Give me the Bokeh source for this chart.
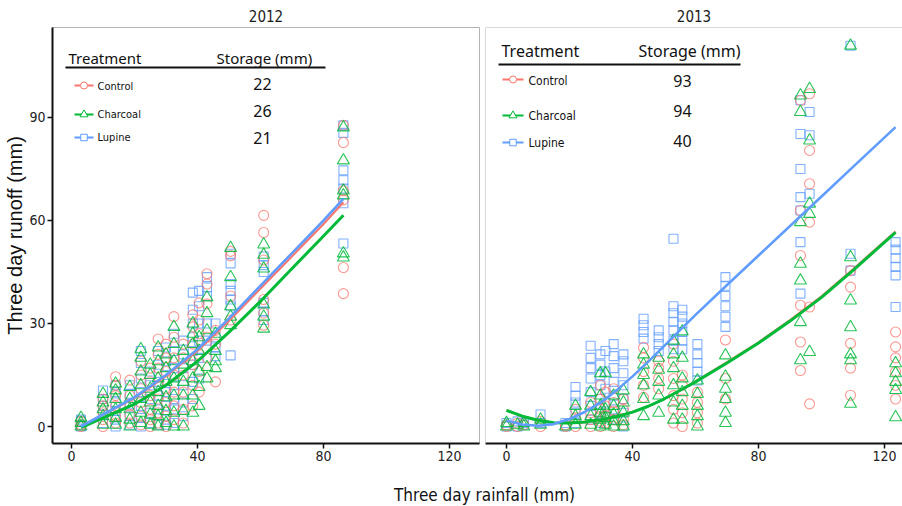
from bokeh.plotting import figure
from bokeh.layouts import column, row
from bokeh.models import Label, Span, FixedTicker, Range1d
from bokeh.embed import file_html
from bokeh.resources import INLINE

# ---------------- data ----------------
treatments = ["Control", "Charcoal", "Lupine"]
storage_2012 = ["22", "26", "21"]
storage_2013 = ["93", "94", "40"]
years = ["2012", "2013"]
x_ticks = [0, 40, 80, 120]
y_ticks = [0, 30, 60, 90]

rain_2012 = [3, 10, 14, 18.5, 22, 25, 27.5, 30, 32.5, 35.5, 38.5, 40.5, 43, 45.7, 50.5, 61, 86.3]
control_2012 = [[0, 0.5, 1.5], [0, 2, 4, 6, 8], [1, 3, 6, 9, 12, 14.5], [1, 3.5, 6, 9, 13.5],
                [0.5, 3, 7, 11, 15, 19], [0, 2, 5, 9, 13, 17], [1, 4, 8, 12, 17, 21, 25.5],
                [0, 3, 7, 11, 16, 20, 24], [2, 6, 10, 15, 20, 26, 32], [1, 5, 10, 15, 20, 24],
                [6, 12, 18, 24, 29, 32.5], [10, 16, 21, 27, 31, 36], [20, 26, 35.7, 41.5, 44.5],
                [13, 24, 28], [31, 38, 49.7, 51], [29.5, 33, 37, 48.5, 56.5, 61.5],
                [38.7, 46.3, 66, 68.7, 82.7, 87.7]]
charcoal_2012 = [[0, 1, 2.5], [0.5, 3, 5, 7, 9.5], [0.5, 2.5, 5, 8, 10.5, 12.5], [0, 2, 5, 8, 11.5],
                 [1, 4, 8, 12, 16, 20, 22.5], [0.5, 3.5, 7, 11, 15, 18], [0, 3, 6, 10, 14, 19, 23],
                 [1, 4.5, 8.5, 13, 17, 21], [0, 4, 9, 14, 19, 24, 29], [0, 4.5, 9, 13, 18, 22],
                 [4, 9, 14, 19, 24, 27, 30], [6, 11.5, 16, 22, 26], [14, 17.3, 28, 33, 37.6],
                 [17, 19, 22, 27], [29.5, 32, 35, 43.5, 52], [28.5, 32, 35.5, 46, 50, 53],
                 [49.2, 50.4, 67.3, 68.7, 77.5, 87.1]]
lupine_2012 = [[0, 0.5, 1.5, 2], [1, 3.5, 6, 8, 10.5], [0, 2, 4.5, 7, 10, 12], [0.5, 3, 6.5, 9.5, 12],
               [0, 2.5, 6, 10, 14, 18.5, 22], [1, 4, 8, 12, 16], [0.5, 5, 9, 13, 18, 22],
               [0.5, 2, 6, 10, 15, 19, 23], [1, 5, 8, 12, 17, 22, 27], [3, 7, 12, 17, 21, 25],
               [8, 13, 18, 22, 26, 30, 34, 39], [14, 20, 25, 30, 35, 39.5], [25, 30, 38, 40.5, 43.5],
               [20.5, 23, 26, 30], [20.7, 35, 37, 39.5, 41.5, 47.5, 50.3], [31, 33.5, 36, 45, 47, 49.5],
               [53.3, 65, 69.3, 71.7, 74.6, 85.5, 87.7]]

rain_2013 = [0, 3.5, 5.5, 10.8, 18.7, 21.9, 26.7, 29.8, 31.4, 34, 37.1, 43.5, 48.3, 53, 55.8,
             60.6, 69.5, 93.3, 96.2, 109.2, 123.5]
control_2013 = [[0, 0.5], [0, 1], [0.5], [0, 1.5], [0, 0.5], [0, 2.5, 5], [0, 2, 4, 7],
                [0, 1.5, 3, 5, 8, 12], [1, 3, 6, 10], [0, 2, 4.5, 7, 11], [0.5, 2, 5, 8],
                [8.5, 12, 16, 20, 23], [11, 14, 17, 19], [1, 5, 9, 14, 19, 24], [0, 4, 8, 12, 15],
                [1, 4, 7, 10], [8, 14, 25.2], [16.3, 24.6, 35.3, 49.8, 62.9, 95],
                [6.6, 34.8, 59.5, 70.7, 80.4, 96.9], [9.1, 17, 24.2, 40.6, 45.4],
                [8, 12, 16, 20, 23.2, 27.5]]
charcoal_2013 = [[0, 1], [0.5], [0, 1], [0.5, 2], [0], [0.5, 3, 6], [0.5, 3, 6, 10],
                 [0, 2, 4, 6, 9, 15.5], [0.5, 2.5, 5, 15.5], [0, 1.5, 3.5, 6, 9], [0, 1.5, 4, 7, 10.5],
                 [3, 8, 12, 15, 18, 21], [4, 9, 13, 16.5, 20], [2, 7, 12, 17, 21, 25],
                 [2, 6, 10, 14, 20, 27.7], [0, 3, 6, 9.5, 13.4], [1, 4, 8, 11, 14.5, 20.7],
                 [19.3, 30.4, 42.5, 47.4, 59.5, 91.6, 96.4], [21.7, 61.9, 64.9, 83.3, 98.3],
                 [6.6, 19.3, 21, 28.9, 36.7, 49.3, 110.9], [2.7, 10.6, 13, 15.5, 18.4]]
lupine_2013 = [[0, 1], [0, 1.5], [0.5, 1], [1, 3.5], [0, 1], [1, 4, 7, 9, 11.5],
               [2, 6, 10, 14, 17, 20, 23.5], [1, 4, 8, 12, 15, 18, 21], [3, 7, 11, 16, 22],
               [2, 5, 9, 13, 17, 20.5, 24], [0, 4, 8, 12, 15.5, 19, 21], [25.6, 27.5, 29.5, 31.4],
               [22, 24, 26, 28], [22.5, 25, 28, 30.5, 33, 35, 54.7], [22.5, 25, 27.5, 30, 32, 34],
               [13.4, 16, 18.5, 21, 24], [29, 32, 35, 38, 41, 43.5],
               [38.7, 53.7, 62.9, 66.8, 75, 85.2, 95], [67.8, 84.8, 91.6], [45.4, 50.3, 110.9],
               [34.8, 44, 46.5, 49, 51.5, 53.7]]

# fitted curves
fit_x_2012 = [3, 10, 20, 30, 40, 50, 60, 70, 80, 86.3]
control_fit_2012 = [0, 3.4, 8.3, 14.7, 22, 30.8, 40.2, 49.6, 59, 65.3]
charcoal_fit_2012 = [-0.3, 2.5, 6.5, 12, 19, 27.5, 36.5, 46, 55.5, 61.5]
lupine_fit_2012 = [0, 3.5, 8.5, 15, 22.5, 31.5, 41, 50.5, 60, 66.3]

fit_x_2013 = [0, 5, 10, 15, 20, 25, 30, 35, 40, 45, 50, 55, 60, 70, 80, 90, 100, 110, 123.5]
control_fit_2013 = [4.7, 3.0, 1.8, 1.1, 1.0, 1.3, 2.0, 2.9, 4.2, 5.9, 8.0, 10.5, 13.1, 18.7,
                    24.5, 31.0, 37.9, 45.8, 56.8]
charcoal_fit_2013 = [4.7, 3.0, 1.8, 1.1, 1.0, 1.3, 2.0, 2.9, 4.2, 5.9, 8.0, 10.5, 13.0, 18.5,
                     24.3, 30.7, 37.6, 45.5, 56.5]
lupine_fit_2013 = [1.7, 0.6, 0.2, 0.7, 2.2, 4.3, 7.0, 10.6, 14.6, 18.9, 23.4, 28.0, 32.5, 41.2,
                   49.8, 58.4, 67.0, 75.6, 87.2]

# ---------------- style ----------------
RED = "#F8766D"
GREEN = "#00BA38"
BLUE = "#619CFF"
NARROW = "'DejaVu Sans Condensed', 'Liberation Sans', sans-serif"
HEAD = "'Noto Sans', sans-serif"

FH = 416
TOP, BOT = 27, 39
Y0, Y1 = -4.95, 116.2
XL0, XL1 = -6.03, 129.5
XR0, XR1 = -6.67, 125.7


def flatten(rain, groups):
    xs, ys = [], []
    for r, vals in zip(rain, groups):
        for v in vals:
            xs.append(r)
            ys.append(v)
    return xs, ys


def make_panel(year, rain, groups, fits, fit_x, storage, fw, left_border, right_border,
               x0, x1, show_y, legend_px):
    p = figure(frame_width=fw, frame_height=FH, min_border_left=left_border,
               min_border_right=right_border, min_border_top=TOP, min_border_bottom=BOT,
               x_range=Range1d(x0, x1), y_range=Range1d(Y0, Y1),
               output_backend="svg", toolbar_location=None,
               y_axis_location="left" if show_y else None, title=year)
    p.title.align = "center"
    p.title.text_font = NARROW
    p.title.text_font_size = "15px"
    p.title.text_font_style = "normal"
    p.title.text_color = "#1a1a1a"
    p.title.standoff = 11
    p.xgrid.visible = False
    p.ygrid.visible = False
    p.background_fill_color = "white"
    p.border_fill_color = "white"

    p.xaxis.ticker = FixedTicker(ticks=x_ticks)
    axes = [p.xaxis]
    if show_y:
        p.yaxis.ticker = FixedTicker(ticks=y_ticks)
        p.yaxis.axis_label = "Three day runoff (mm)"
        p.yaxis.axis_label_text_font = "'Liberation Sans', sans-serif"
        p.yaxis.axis_label_text_font_size = "20px"
        p.yaxis.axis_label_text_font_style = "normal"
        p.yaxis.axis_label_standoff = 0
        p.yaxis.axis_label_text_color = "#111111"
        axes.append(p.yaxis)
    for ax in axes:
        ax.axis_line_color = "#111111"
        ax.axis_line_width = 2
        ax.major_tick_line_color = "#111111"
        ax.major_tick_line_width = 1.5
        ax.major_tick_out = 5
        ax.major_tick_in = 0
        ax.minor_tick_line_color = None
        ax.major_label_text_font = NARROW
        ax.major_label_text_font_size = "14px"
        ax.major_label_text_color = "#222222"
        ax.major_label_standoff = 2

    if show_y:
        p.outline_line_color = "#b3b3b3"
        p.outline_line_width = 1
    else:
        p.outline_line_color = None
        p.add_layout(Span(location=Y1, dimension="width", line_color="#b3b3b3", line_width=1))
        p.add_layout(Span(location=x0, dimension="height", line_color="#b3b3b3", line_width=1))

    ctrl, char, lup = groups
    xs, ys = flatten(rain, lup)
    p.scatter(xs, ys, marker="square", size=9, fill_color=None, line_color=BLUE,
              line_alpha=0.8, line_width=1.1)
    xs, ys = flatten(rain, ctrl)
    p.scatter(xs, ys, marker="circle", size=10, fill_color=None, line_color=RED,
              line_alpha=0.75, line_width=1.1)
    xs, ys = flatten(rain, char)
    p.scatter(xs, ys, marker="triangle", size=12, fill_color=None, line_color=GREEN,
              line_alpha=0.85, line_width=1.1)

    fc, fch, fl = fits
    p.line(fit_x, fc, line_color=RED, line_width=2.2)
    p.line(fit_x, fch, line_color=GREEN, line_width=3)
    p.line(fit_x, fl, line_color=BLUE, line_width=2.6)

    # legend table (positions in screen pixels converted to data)
    frame_left = left_border

    def dx(px):
        return x0 + (px - frame_left) / fw * (x1 - x0)

    def dy(py):
        return Y1 - (py - TOP) / FH * (Y1 - Y0)

    L = legend_px
    p.add_layout(Label(x=dx(L["tx"]), y=dy(L["hy"]), text="Treatment", text_font=HEAD,
                       text_font_size=L["hs"], text_baseline="middle", text_color="#111111"))
    p.add_layout(Label(x=dx(L["sx"]), y=dy(L["hy"]), text="Storage (mm)", text_font=HEAD,
                       text_font_size=L["hs"], text_baseline="middle", text_color="#111111"))
    p.line([dx(L["ux0"]), dx(L["ux1"])], [dy(L["uy"]), dy(L["uy"])], line_color="#111111",
           line_width=2)
    colors = [RED, GREEN, BLUE]
    markers = ["circle", "triangle", "square"]
    msize = [7, 8, 6.5]
    for i, name in enumerate(treatments):
        ky = L["ky"][i]
        p.line([dx(L["kx0"]), dx(L["kx1"])], [dy(ky), dy(ky)], line_color=colors[i],
               line_width=2)
        p.scatter([dx((L["kx0"] + L["kx1"]) / 2)], [dy(ky)], marker=markers[i], size=msize[i],
                  fill_color="white", line_color=colors[i], line_width=1)
        p.add_layout(Label(x=dx(L["lx"]), y=dy(L["ly"][i]), text=name, text_font=NARROW,
                           text_font_size=L["ls"], text_baseline="middle", text_color="#111111"))
        p.add_layout(Label(x=dx(L["nx"]), y=dy(L["ny"][i]), text=storage[i], text_font=HEAD,
                           text_font_size=L["ns"], text_baseline="middle", text_align="center",
                           text_color="#111111"))
    return p


leg_2012 = dict(tx=68, sx=216, hy=57, hs="15px", ux0=65, ux1=325, uy=67,
                kx0=74, kx1=93, ky=[85, 114, 137], lx=97, ly=[86, 114, 137], ls="11px",
                nx=262, ny=[83, 110, 137], ns="16px")
leg_2013 = dict(tx=501, sx=638, hy=50, hs="16px", ux0=498, ux1=740, uy=64,
                kx0=502, kx1=523, ky=[79, 115, 142], lx=528, ly=[80, 115, 142], ls="12px",
                nx=682, ny=[80, 110, 140], ns="16px")
# right panel legend pixels are absolute; shift to panel-local
leg_2013_local = dict(leg_2013)
for k in ["tx", "sx", "ux0", "ux1", "kx0", "kx1", "lx", "nx"]:
    leg_2013_local[k] = leg_2013[k] - 482

pL = make_panel(years[0], rain_2012, [control_2012, charcoal_2012, lupine_2012],
                [control_fit_2012, charcoal_fit_2012, lupine_fit_2012], fit_x_2012,
                storage_2012, 427, 52, 3, XL0, XL1, True, leg_2012)
pR = make_panel(years[1], rain_2013, [control_2013, charcoal_2013, lupine_2013],
                [control_fit_2013, charcoal_fit_2013, lupine_fit_2013], fit_x_2013,
                storage_2013, 417, 3, 0, XR0, XR1, False, leg_2013_local)

pB = figure(frame_width=902, frame_height=24, min_border=0, x_range=Range1d(0, 902),
            y_range=Range1d(0, 24), output_backend="svg", toolbar_location=None,
            x_axis_location=None, y_axis_location=None)
pB.outline_line_color = None
pB.xgrid.visible = False
pB.ygrid.visible = False
pB.add_layout(Label(x=484, y=12, text="Three day rainfall (mm)", text_font=NARROW,
                    text_font_size="17px", text_align="center", text_baseline="middle",
                    text_color="#111111"))

layout = column(row(pL, pR, spacing=0), pB, spacing=0)
open("out.html", "w").write(file_html(layout, INLINE))
